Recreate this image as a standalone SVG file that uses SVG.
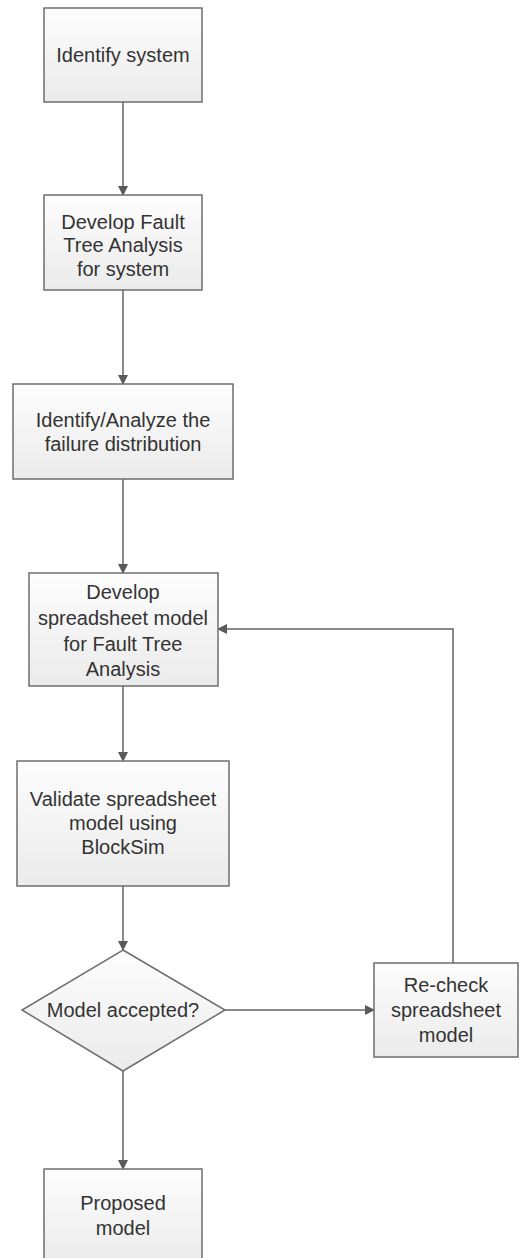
<svg xmlns="http://www.w3.org/2000/svg" width="519" height="1258" viewBox="0 0 519 1258">
  <defs>
    <linearGradient id="g" x1="0" y1="0" x2="0" y2="1">
      <stop offset="0" stop-color="#fdfdfd"/>
      <stop offset="1" stop-color="#ebebeb"/>
    </linearGradient>
    <marker id="arr" markerWidth="10" markerHeight="10" refX="9" refY="5" orient="auto" markerUnits="userSpaceOnUse">
      <path d="M0,0 L10,5 L0,10 Z" fill="#5a5a5a"/>
    </marker>
  </defs>
  <style>
    .n { fill: url(#g); stroke: #6e6e6e; stroke-width: 1.5; }
    .t { font-family: "Liberation Sans", Arial, sans-serif; font-size: 20px; fill: #333; text-anchor: middle; }
    .c { fill: none; stroke: #646464; stroke-width: 1.5; marker-end: url(#arr); }
  </style>
  <rect width="519" height="1258" fill="#fff"/>
  <g id="connectors">
    <path class="c" d="M123,102 L123,195"/>
    <path class="c" d="M123,290 L123,384"/>
    <path class="c" d="M123,479 L123,573"/>
    <path class="c" d="M123,686 L123,761"/>
    <path class="c" d="M123,886 L123,950"/>
    <path class="c" d="M123,1071 L123,1169"/>
    <path class="c" d="M225,1010 L374,1010"/>
    <path class="c" d="M453,963 L453,629 L218,629"/>
  </g>
  <g id="n1">
    <rect class="n" x="44" y="8" width="158" height="94"/>
    <text class="t" x="123" y="62">Identify system</text>
  </g>
  <g id="n2">
    <rect class="n" x="44" y="195" width="158" height="95"/>
    <text class="t" x="123" y="229">Develop Fault</text>
    <text class="t" x="123" y="252">Tree Analysis</text>
    <text class="t" x="123" y="276">for system</text>
  </g>
  <g id="n3">
    <rect class="n" x="13" y="384" width="220" height="95"/>
    <text class="t" x="123" y="427">Identify/Analyze the</text>
    <text class="t" x="123" y="451">failure distribution</text>
  </g>
  <g id="n4">
    <rect class="n" x="29" y="573" width="189" height="113"/>
    <text class="t" x="123" y="599">Develop</text>
    <text class="t" x="123" y="625">spreadsheet model</text>
    <text class="t" x="123" y="651">for Fault Tree</text>
    <text class="t" x="123" y="676">Analysis</text>
  </g>
  <g id="n5">
    <rect class="n" x="17" y="761" width="212" height="125"/>
    <text class="t" x="123" y="806">Validate spreadsheet</text>
    <text class="t" x="123" y="830">model using</text>
    <text class="t" x="123" y="854">BlockSim</text>
  </g>
  <g id="n6">
    <polygon class="n" points="123,950 225,1010 123,1071 22,1010"/>
    <text class="t" x="123" y="1017">Model accepted?</text>
  </g>
  <g id="n7">
    <rect class="n" x="374" y="963" width="144" height="94"/>
    <text class="t" x="446" y="992">Re-check</text>
    <text class="t" x="446" y="1017">spreadsheet</text>
    <text class="t" x="446" y="1042">model</text>
  </g>
  <g id="n8">
    <rect class="n" x="44" y="1169" width="158" height="94"/>
    <text class="t" x="123" y="1210">Proposed</text>
    <text class="t" x="123" y="1235">model</text>
  </g>
</svg>
